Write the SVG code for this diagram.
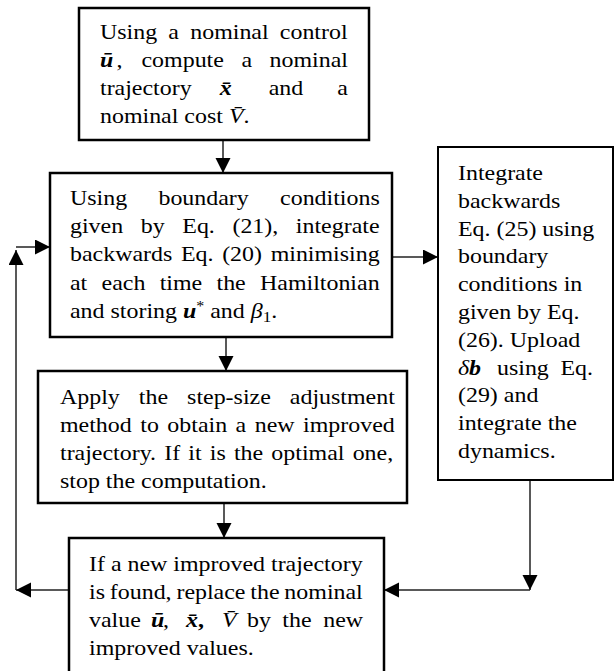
<svg xmlns="http://www.w3.org/2000/svg" width="615" height="671" viewBox="0 0 615 671">
<defs>
<style>
.box{fill:#fff;stroke:#000;stroke-width:2.5}
.t{font-family:"Liberation Serif","Times New Roman",serif;font-size:21px;fill:#000}
.e{text-anchor:end}
.bi{font-weight:bold;font-style:italic}
.i{font-style:italic}
.c{fill:none;stroke:#222;stroke-width:1.5}
</style>
<marker id="ah" markerUnits="userSpaceOnUse" markerWidth="16" markerHeight="16" refX="15" refY="7.5" orient="auto">
<path d="M0,0 L15,7.5 L0,15 z" fill="#000"/>
</marker>
</defs>
<rect width="615" height="671" fill="#fff"/>

<g id="connectors">
<line class="c" x1="223" y1="140" x2="223" y2="173" marker-end="url(#ah)"/>
<line class="c" x1="226" y1="337" x2="226" y2="371" marker-end="url(#ah)"/>
<line class="c" x1="224" y1="504" x2="224" y2="538" marker-end="url(#ah)"/>
<line class="c" x1="392" y1="257" x2="438" y2="257" marker-end="url(#ah)"/>
<line class="c" x1="69" y1="590" x2="16" y2="590" marker-end="url(#ah)"/>
<line class="c" x1="16" y1="590" x2="16" y2="250" marker-end="url(#ah)"/>
<line class="c" x1="16" y1="247" x2="50" y2="247" marker-end="url(#ah)"/>
<line class="c" x1="530" y1="480" x2="530" y2="590" marker-end="url(#ah)"/>
<line class="c" x1="530" y1="590" x2="384" y2="590" marker-end="url(#ah)"/>
</g>

<g id="n1">
<rect class="box" x="79" y="8" width="290" height="132"/>
<g transform="matrix(1.14 0 0 1 -14 0)">
<text class="t" x="100" y="39" style="word-spacing:4.6px">Using a nominal control</text>
<text class="t" y="67"><tspan x="100" class="bi">ū</tspan><tspan x="114.5">,</tspan><tspan x="136.4">compute</tspan><tspan x="224.1">a</tspan><tspan x="317.5" class="e">nominal</tspan></text>
<text class="t" y="95"><tspan x="100">trajectory</tspan><tspan x="205" class="bi">x&#x304;</tspan><tspan x="248">and</tspan><tspan x="317.5" class="e">a</tspan></text>
<text class="t" x="100" y="123">nominal cost <tspan class="i">V&#x304;</tspan>.</text>
</g>
</g>

<g id="n2">
<rect class="box" x="50" y="173" width="342" height="164"/>
<g transform="matrix(1.14 0 0 1 -9.8 0)">
<text class="t" x="70" y="205" style="word-spacing:22.2px">Using boundary conditions</text>
<text class="t" x="70" y="233" style="word-spacing:10.2px">given by Eq. (21), integrate</text>
<text class="t" x="70" y="261" style="word-spacing:2.35px">backwards Eq. (20) minimising</text>
<text class="t" x="70" y="290" style="word-spacing:7.3px">at each time the Hamiltonian</text>
<text class="t" x="70" y="318">and storing <tspan class="bi">u</tspan><tspan font-size="14" dy="-7">*</tspan><tspan dy="7"> and </tspan><tspan class="i">β</tspan><tspan font-size="15" dy="4">1</tspan><tspan dy="-4">.</tspan></text>
</g>
</g>

<g id="n3">
<rect class="box" x="38" y="371" width="369" height="132"/>
<g transform="matrix(1.14 0 0 1 -8.4 0)">
<text class="t" x="60" y="404" style="word-spacing:11.45px">Apply the step-size adjustment</text>
<text class="t" x="60" y="432" style="word-spacing:2.2px">method to obtain a new improved</text>
<text class="t" x="60" y="460" style="word-spacing:1.93px">trajectory. If it is the optimal one,</text>
<text class="t" x="60" y="488">stop the computation.</text>
</g>
</g>

<g id="n4">
<rect class="box" x="69" y="538" width="315" height="150"/>
<g transform="matrix(1.14 0 0 1 -12.46 0)">
<text class="t" x="89" y="571">If a new improved trajectory</text>
<text class="t" x="89" y="599" style="word-spacing:-1px">is found, replace the nominal</text>
<text class="t" y="627"><tspan x="89">value</tspan><tspan x="143.4" class="bi">ū</tspan><tspan x="153.9">,</tspan><tspan x="174.1" class="bi">x&#x304;</tspan><tspan x="184.6" font-weight="bold">,</tspan><tspan x="205.7" class="i">V&#x304;</tspan><tspan x="227.6">by</tspan><tspan x="258.6">the</tspan><tspan x="329.4" class="e">new</tspan></text>
<text class="t" x="89" y="655">improved values.</text>
</g>
</g>

<g id="n5">
<rect class="box" x="438" y="147" width="175" height="333" style="stroke-width:2"/>
<g transform="matrix(1.14 0 0 1 -64.12 0)">
<text class="t" x="458" y="180">Integrate</text>
<text class="t" x="458" y="208">backwards</text>
<text class="t" x="458" y="236">Eq. (25) using</text>
<text class="t" x="458" y="263">boundary</text>
<text class="t" x="458" y="291">conditions in</text>
<text class="t" x="458" y="319">given by Eq.</text>
<text class="t" x="458" y="347">(26). Upload</text>
<text class="t" y="375"><tspan x="458" class="i">δ</tspan><tspan class="bi">b</tspan><tspan x="492.2">using</tspan><tspan x="576.4" class="e">Eq.</tspan></text>
<text class="t" x="458" y="402">(29) and</text>
<text class="t" x="458" y="430">integrate the</text>
<text class="t" x="458" y="458">dynamics.</text>
</g>
</g>
</svg>
